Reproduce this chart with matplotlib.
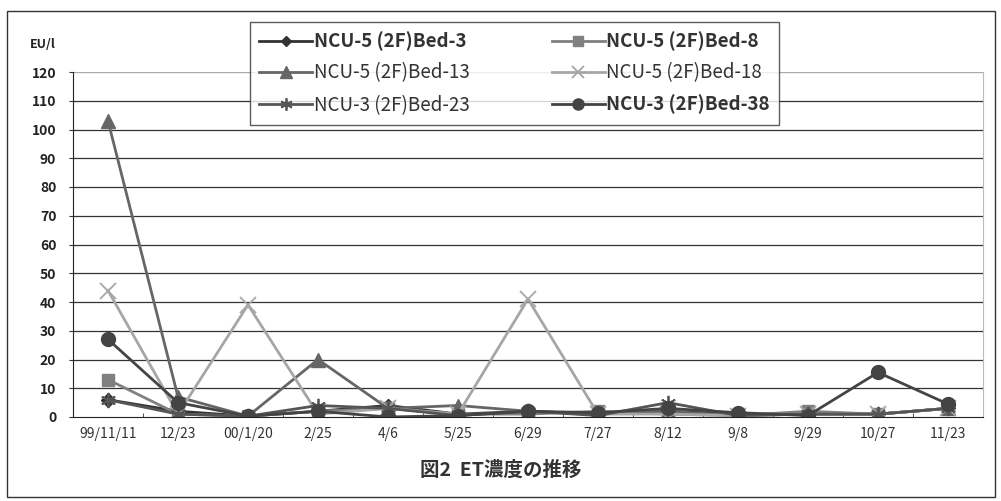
import matplotlib
matplotlib.use('Agg')
import matplotlib.pyplot as plt
from matplotlib.patches import Rectangle

plt.rcParams['font.family'] = ['Noto Sans CJK JP', 'DejaVu Sans']

dates = ['99/11/11', '12/23', '00/1/20', '2/25', '4/6', '5/25', '6/29',
         '7/27', '8/12', '9/8', '9/29', '10/27', '11/23']

bed3 = [6, 2, 0.3, 2, 4, 1, 2, 1, 2, 1, 1, 1, 3]
bed8 = [13, 1, 0.3, 2, 3, 1, 1, 2, 1, 0.5, 2, 1, 3]
bed13 = [103, 7, 0.3, 20, 3, 4, 2, 1, 2, 0.5, 1, 1, 3]
bed18 = [44, 1, 39, 1, 3, 1, 41, 1, 1, 0.5, 1, 1, 3]
bed23 = [6, 1, 0.3, 4, 3, 0.5, 2, 0.5, 5, 0.5, 1, 1, 3]
bed38 = [27, 5, 0.3, 2, 0, 0.5, 2, 1.5, 3, 1.5, 0.5, 15.5, 4.5]

names = ['NCU-5 (2F)Bed-3', 'NCU-5 (2F)Bed-8', 'NCU-5 (2F)Bed-13',
         'NCU-5 (2F)Bed-18', 'NCU-3 (2F)Bed-23', 'NCU-3 (2F)Bed-38']

fig = plt.figure(figsize=(10.01, 5.01), dpi=100)
fig.patches.append(Rectangle((7/1001, 1-497/501), 988/1001, 486/501,
                             transform=fig.transFigure, fill=False,
                             edgecolor='#333333', lw=1.0))

ax = fig.add_axes([73/1001, 1-417/501, 910/1001, 345/501])
x = list(range(len(dates)))

ax.plot(x, bed3, color='#333333', marker='D', ms=7, lw=2)
ax.plot(x, bed8, color='#808080', marker='s', ms=9, lw=2)
ax.plot(x, bed13, color='#666666', marker='^', ms=10, lw=2)
ax.plot(x, bed18, color='#a6a6a6', marker='x', ms=11, mew=1.3, lw=2)
ax.plot(x, bed23, color='#555555', marker=(6, 2, 0), ms=11, mew=1.3, lw=2)
ax.plot(x, bed38, color='#444444', marker='o', ms=10, lw=2)

ax.set_xlim(-0.5, 12.5)
ax.set_ylim(0, 120)
ax.set_yticks(range(0, 121, 10))
ax.set_yticklabels([str(v) for v in range(0, 121, 10)], fontweight='bold',
                   fontsize=10, color='#222222')
ax.set_xticks(x)
ax.set_xticklabels(dates, fontsize=10, color='#333333')
ax.set_xticks([k - 0.5 for k in range(1, 13)], minor=True)
ax.tick_params(axis='x', which='major', length=0, pad=7)
ax.tick_params(axis='x', which='minor', length=3, direction='in', color='#333333')
ax.tick_params(axis='y', length=3, color='#333333', pad=9)

for v in range(10, 120, 10):
    ax.axhline(v, color='#333333', lw=0.9, zorder=0)
ax.axhline(120, color='#aaaaaa', lw=1.0, zorder=0)
ax.spines['top'].set_visible(False)
ax.spines['right'].set_color('#bbbbbb')
ax.spines['left'].set_color('#222222')
ax.spines['bottom'].set_color('#222222')

fig.text(30/1001, 1-44/501, 'EU/l', fontsize=9, fontweight='bold',
         va='center', color='#222222')

lines = ax.get_lines()
order = [0, 2, 4, 1, 3, 5]
leg = fig.legend([lines[i] for i in order], [names[i] for i in order],
                 ncol=2, loc='upper left', bbox_to_anchor=(250/1001, 1-22/501),
                 borderaxespad=0,
                 fontsize=13.5, frameon=True, fancybox=False, edgecolor='#333333',
                 handlelength=2.8, columnspacing=4.4, borderpad=0.5,
                 labelspacing=0.6, handletextpad=0.1, markerscale=0.8)
leg.get_frame().set_linewidth(1.0)
bold_names = {names[0], names[1], names[5]}
for t in leg.get_texts():
    t.set_color('#333333')
    if t.get_text() in bold_names:
        t.set_fontweight('bold')

fig.text(0.5, 1-470/501, '図2  ET濃度の推移', fontsize=14, fontweight='bold',
         ha='center', va='center', color='#333333')

fig.savefig('out.png', dpi=100)
